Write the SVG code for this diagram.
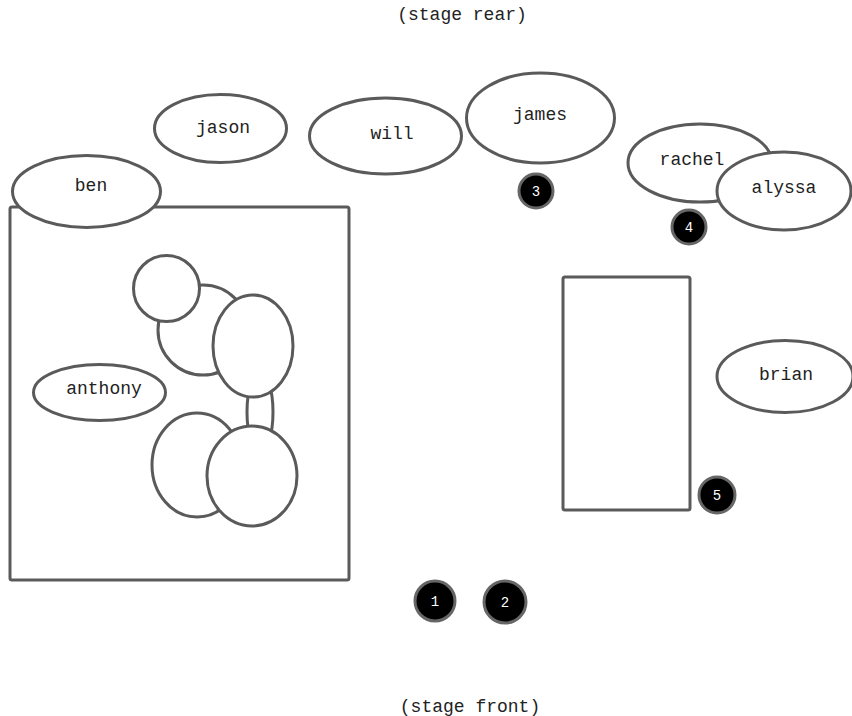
<svg xmlns="http://www.w3.org/2000/svg" width="852" height="716" viewBox="0 0 852 716">
<style>
.s{fill:#fff;stroke:#5a5a5a;stroke-width:3}
.m{fill:#000;stroke:#666;stroke-width:3}
.t{font-family:"Liberation Mono","Courier New",monospace;font-size:18px;fill:#222;text-anchor:middle}
.n{font-family:"Liberation Mono","Courier New",monospace;font-size:14px;fill:#fff;text-anchor:middle}
</style>
<rect width="852" height="716" fill="#fff"/>
<text class="t" x="462" y="20">(stage rear)</text>
<text class="t" x="470" y="712">(stage front)</text>
<g id="box-left"><rect class="s" x="10" y="207" width="339" height="373" rx="2"/></g>
<g id="box-right"><rect class="s" x="563" y="277" width="127" height="233" rx="2"/></g>
<g id="jason"><ellipse class="s" cx="220.5" cy="128.5" rx="66" ry="34"/><text class="t" x="223" y="133">jason</text></g>
<g id="will"><ellipse class="s" cx="385.5" cy="136" rx="76" ry="38"/><text class="t" x="392" y="139">will</text></g>
<g id="james"><ellipse class="s" cx="540.5" cy="118" rx="74" ry="45"/><text class="t" x="540" y="120">james</text></g>
<g id="ben"><ellipse class="s" cx="86.5" cy="191.5" rx="74" ry="36"/><text class="t" x="91" y="191">ben</text></g>
<g id="rachel"><ellipse class="s" cx="700" cy="163" rx="72" ry="39"/><text class="t" x="692" y="165">rachel</text></g>
<g id="alyssa"><ellipse class="s" cx="784" cy="191" rx="67" ry="39"/><text class="t" x="784" y="193">alyssa</text></g>
<g id="anthony"><ellipse class="s" cx="99.5" cy="392.5" rx="66" ry="28"/><text class="t" x="104" y="394">anthony</text></g>
<g id="brian"><ellipse class="s" cx="785" cy="376.5" rx="68" ry="36"/><text class="t" x="786" y="380">brian</text></g>
<g id="seats">
<circle class="s" cx="203" cy="330" r="45"/>
<circle class="s" cx="166.5" cy="288.5" r="33"/>
<ellipse class="s" cx="260" cy="412" rx="13" ry="40"/>
<ellipse class="s" cx="253" cy="346" rx="40" ry="51"/>
<ellipse class="s" cx="197" cy="465" rx="45" ry="52"/>
<ellipse class="s" cx="252" cy="476" rx="45" ry="50"/>
</g>
<g id="m1"><circle class="m" cx="435" cy="601" r="20"/><text class="n" x="435" y="606">1</text></g>
<g id="m2"><circle class="m" cx="505" cy="602" r="21"/><text class="n" x="505" y="607">2</text></g>
<g id="m3"><circle class="m" cx="536" cy="191" r="17"/><text class="n" x="536" y="196">3</text></g>
<g id="m4"><circle class="m" cx="689" cy="227" r="17"/><text class="n" x="689" y="232">4</text></g>
<g id="m5"><circle class="m" cx="717" cy="495" r="18"/><text class="n" x="717" y="500">5</text></g>
<g id="connectors"></g>
</svg>
